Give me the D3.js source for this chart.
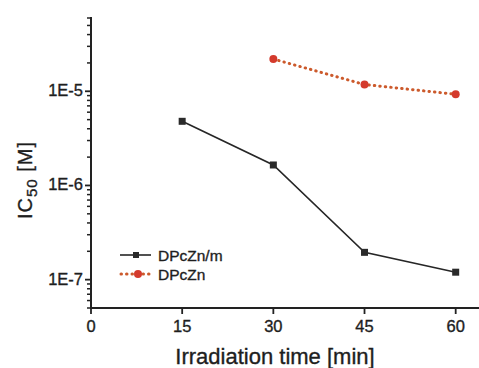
<!DOCTYPE html>
<html>
<head>
<meta charset="utf-8">
<script src="https://cdn.jsdelivr.net/npm/d3@7"></script>
<style>
  body { margin: 0; background: #fff; }
  text { font-family: "Liberation Sans", Arial, sans-serif; fill: #1e1e1e; stroke: #1e1e1e; stroke-width: 0.35px; }
</style>
</head>
<body>
<div id="chart"></div>
<script>
var width = 479, height = 368;

// data
var times = [15, 30, 45, 60];
var dpcznM = [4.8e-6, 1.65e-6, 1.95e-7, 1.2e-7];
var dpcznTimes = [30, 45, 60];
var dpczn = [2.2e-5, 1.18e-5, 9.3e-6];
var xTicks = [0, 15, 30, 45, 60];
var yMajor = [1e-7, 1e-6, 1e-5];
var yLabels = ["1E-7", "1E-6", "1E-5"];

var svg = d3.select('#chart').append('svg')
    .attr('width', width)
    .attr('height', height);

var x = d3.scaleLinear().domain([0, 64]).range([91, 480]);
var y = d3.scaleLog().domain([5e-8, 6e-5]).range([308, 18]);

// minor log ticks
var minor = [];
[1e-8, 1e-7, 1e-6, 1e-5].forEach(function(dec){
    for (var k = 2; k <= 9; k++) {
        var v = dec * k;
        if (v >= 5e-8 && v <= 6.01e-5) minor.push(v);
    }
});

var yAxisG = svg.append('g');
yAxisG.append('line')
    .attr('x1', 91).attr('x2', 91)
    .attr('y1', y(6e-5) - 1).attr('y2', 308)
    .attr('stroke', '#222').attr('stroke-width', 2);
yAxisG.selectAll('.minor').data(minor).enter().append('line')
    .attr('x1', 87).attr('x2', 91)
    .attr('y1', function(d){ return y(d); })
    .attr('y2', function(d){ return y(d); })
    .attr('stroke', '#222').attr('stroke-width', 1.5);
yAxisG.selectAll('.major').data(yMajor).enter().append('line')
    .attr('x1', 85).attr('x2', 91)
    .attr('y1', function(d){ return y(d); })
    .attr('y2', function(d){ return y(d); })
    .attr('stroke', '#222').attr('stroke-width', 1.8);
yAxisG.selectAll('.lab').data(yMajor).enter().append('text')
    .attr('x', 83)
    .attr('y', function(d){ return y(d) + 5; })
    .attr('text-anchor', 'end')
    .style('font-size', '16.5px')
    .text(function(d, i){ return yLabels[i]; });

// x axis
var xAxisG = svg.append('g');
xAxisG.append('line')
    .attr('x1', 90).attr('x2', 479)
    .attr('y1', 308).attr('y2', 308)
    .attr('stroke', '#222').attr('stroke-width', 2);
xAxisG.selectAll('.xt').data(xTicks).enter().append('line')
    .attr('x1', function(d){ return x(d); })
    .attr('x2', function(d){ return x(d); })
    .attr('y1', 308).attr('y2', 314)
    .attr('stroke', '#222').attr('stroke-width', 1.8);
xAxisG.selectAll('.xl').data(xTicks).enter().append('text')
    .attr('x', function(d){ return x(d); })
    .attr('y', 332)
    .attr('text-anchor', 'middle')
    .style('font-size', '16.5px')
    .text(function(d){ return d; });

// axis titles
svg.append('text')
    .attr('x', 275).attr('y', 364)
    .attr('text-anchor', 'middle')
    .style('font-size', '22px')
    .text('Irradiation time [min]');

var yt = svg.append('text')
    .attr('transform', 'translate(32,180) rotate(-90)')
    .attr('text-anchor', 'middle')
    .style('font-size', '20px')
    .style('letter-spacing', '1px');
yt.append('tspan').text('IC');
yt.append('tspan').attr('dy', 5).style('font-size', '15px').text('50');
yt.append('tspan').attr('dy', -5).text(' [M]');

// series
var lineM = d3.line()
    .x(function(d, i){ return x(times[i]); })
    .y(function(d){ return y(d); });
svg.append('path')
    .attr('d', lineM(dpcznM))
    .attr('fill', 'none')
    .attr('stroke', '#262626')
    .attr('stroke-width', 1.6);
svg.selectAll('.sq').data(dpcznM).enter().append('rect')
    .attr('x', function(d, i){ return x(times[i]) - 3.5; })
    .attr('y', function(d){ return y(d) - 3.5; })
    .attr('width', 7).attr('height', 7)
    .attr('fill', '#2a2a2a');

var lineZ = d3.line()
    .x(function(d, i){ return x(dpcznTimes[i]); })
    .y(function(d){ return y(d); });
svg.append('path')
    .attr('d', lineZ(dpczn))
    .attr('fill', 'none')
    .attr('stroke', '#cc5a2c')
    .attr('stroke-width', 3)
    .attr('stroke-linecap', 'round')
    .attr('stroke-dasharray', '0.5,5');
svg.selectAll('.ci').data(dpczn).enter().append('circle')
    .attr('cx', function(d, i){ return x(dpcznTimes[i]); })
    .attr('cy', function(d){ return y(d); })
    .attr('r', 4)
    .attr('fill', '#d43a2c');

// legend
var lg = svg.append('g');
lg.append('line')
    .attr('x1', 120).attr('x2', 151).attr('y1', 255).attr('y2', 255)
    .attr('stroke', '#262626').attr('stroke-width', 1.6);
lg.append('rect')
    .attr('x', 133).attr('y', 252).attr('width', 6).attr('height', 6)
    .attr('fill', '#2a2a2a');
lg.append('text')
    .attr('x', 158).attr('y', 261)
    .style('font-size', '15.5px')
    .text('DPcZn/m');
lg.append('line')
    .attr('x1', 121).attr('x2', 150).attr('y1', 274).attr('y2', 274)
    .attr('stroke', '#cc5a2c').attr('stroke-width', 3)
    .attr('stroke-linecap', 'round')
    .attr('stroke-dasharray', '0.5,5');
lg.append('circle')
    .attr('cx', 138).attr('cy', 274).attr('r', 4)
    .attr('fill', '#d43a2c');
lg.append('text')
    .attr('x', 158).attr('y', 280)
    .style('font-size', '15.5px')
    .text('DPcZn');
</script>
</body>
</html>
